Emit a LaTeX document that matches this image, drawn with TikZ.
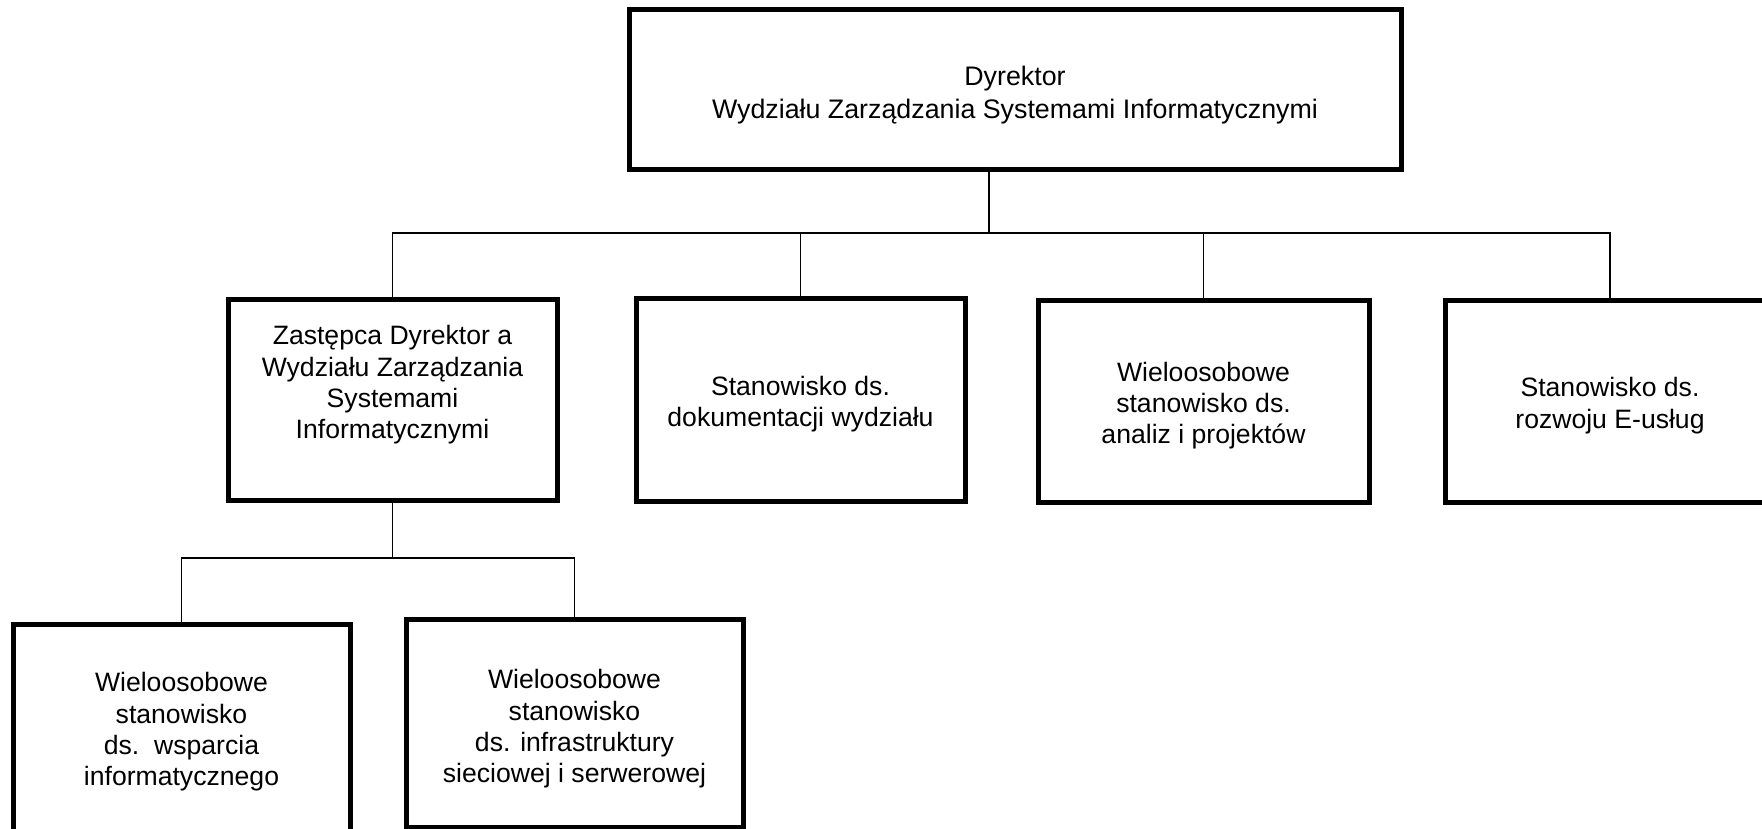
\documentclass[tikz,border=0pt]{standalone}
\usepackage{fontspec}
\setmainfont{Liberation Sans}
\begin{document}
\begin{tikzpicture}[x=0.5pt,y=-0.5pt,
  box/.style={draw,line width=2.5pt,inner sep=0pt},
  txt/.style={align=center,inner sep=0pt,font=\fontsize{13.3}{15.7}\selectfont},
  link/.style={line width=0.8pt}]
\useasboundingbox (0,0) rectangle (1762,829);
% boxes
\node[box,minimum width=386pt,minimum height=80pt] (dir) at (1015,90) {};
\node[box,minimum width=164.5pt,minimum height=100.5pt] (zast) at (392.5,400) {};
\node[box,minimum width=164.5pt,minimum height=101.5pt] (dok) at (800.5,399.5) {};
\node[box,minimum width=165.5pt,minimum height=101pt] (anal) at (1203.5,401) {};
\node[box,minimum width=165pt,minimum height=101pt] (eusl) at (1610,401) {};
\node[box,minimum width=168.5pt,minimum height=108pt] (wsp) at (181.5,732) {};
\node[box,minimum width=168.5pt,minimum height=104pt] (infra) at (574.5,723) {};
% texts
\node[txt,font=\fontsize{13.4}{16.5}\selectfont,yshift=-2.3pt] (dir-t) at (dir)
  {Dyrektor\\Wydziału Zarządzania Systemami Informatycznymi};
\node[txt,yshift=7.5pt] (zast-t) at (zast)
  {Zastępca Dyrektor a\\Wydziału Zarządzania\\Systemami\\Informatycznymi};
\node[txt,yshift=-2.3pt] (dok-t) at (dok)
  {Stanowisko ds.\\dokumentacji wydziału};
\node[txt,yshift=-2.3pt] (anal-t) at (anal)
  {Wieloosobowe\\stanowisko ds.\\analiz i projektów};
\node[txt,yshift=-2.3pt] (eusl-t) at (eusl)
  {Stanowisko ds.\\rozwoju E-usług};
\node[txt] (wsp-t) at (wsp)
  {Wieloosobowe\\stanowisko\\ds.\ \ wsparcia\\informatycznego};
\node[txt,yshift=-3pt] (infra-t) at (infra)
  {Wieloosobowe\\stanowisko\\ds. infrastruktury\\sieciowej i serwerowej};
% connectors
\coordinate (j1) at (989,233);
\coordinate (j2) at (390,558);
\draw[link] (j1 |- dir.south) -- (j1);
\draw[link] (zast.north) -- (zast.north |- j1) -- (eusl.north |- j1) -- (eusl.north);
\draw[link] (dok.north) -- (dok.north |- j1);
\draw[link] (anal.north) -- (anal.north |- j1);
\draw[link] (zast.south) -- (zast.south |- j2);
\draw[link] (wsp.north) -- (wsp.north |- j2) -- (infra.north |- j2) -- (infra.north);
\end{tikzpicture}
\end{document}
